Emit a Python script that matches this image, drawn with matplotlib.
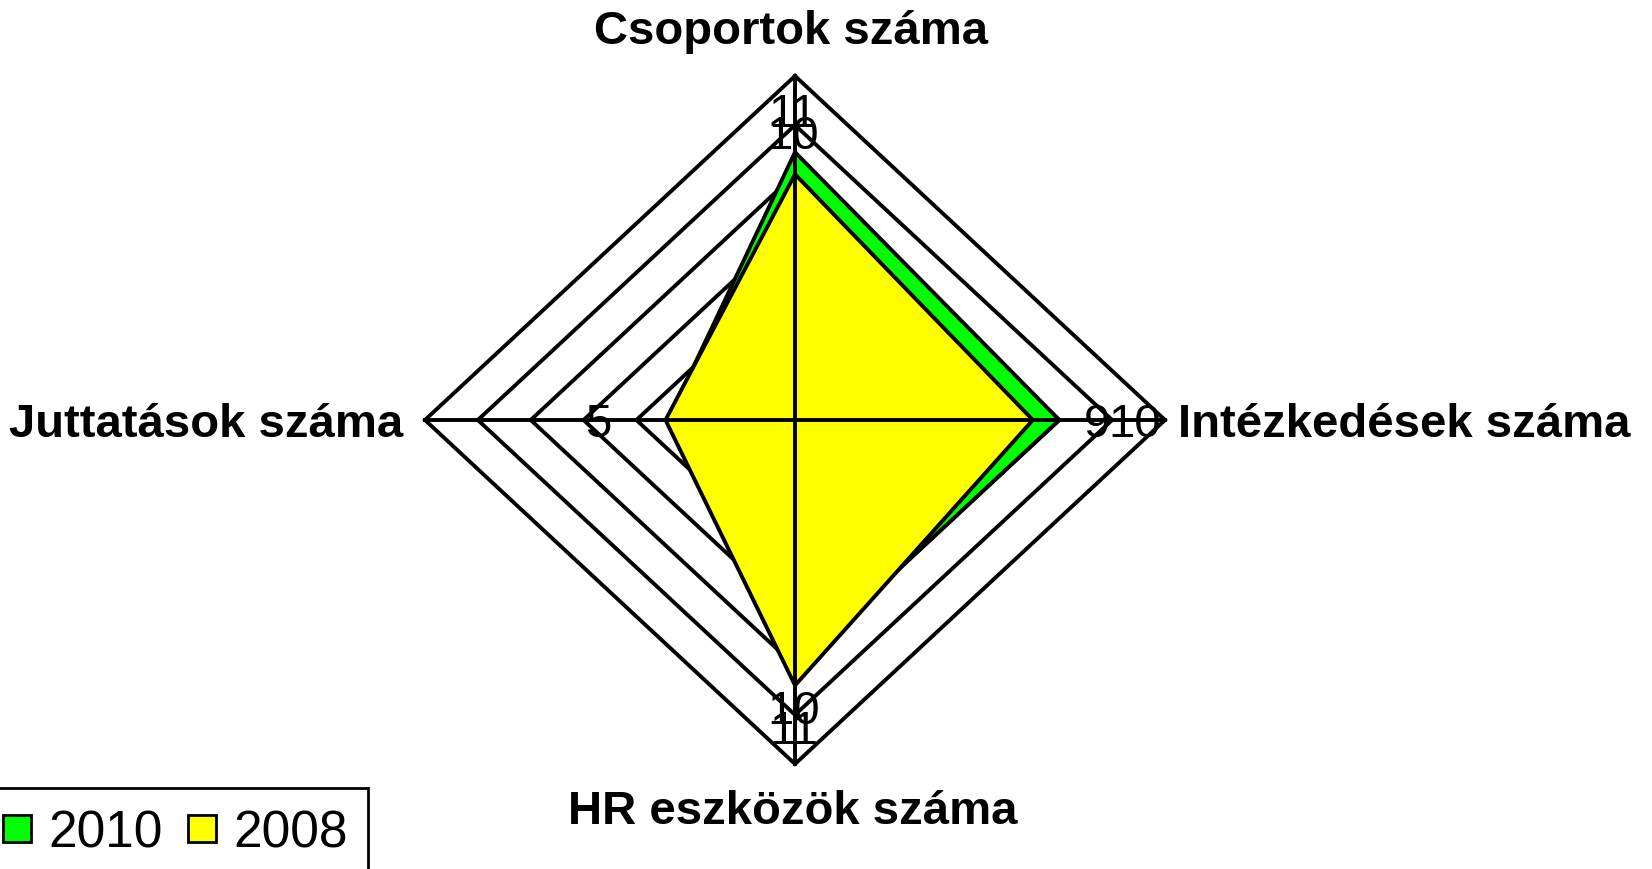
import numpy as np
import matplotlib.pyplot as plt
from matplotlib.patches import Rectangle

# -----------------------
# Data
# -----------------------
categories = ["Csoportok száma", "Intézkedések száma", "HR eszközök száma", "Juttatások száma"]
series_names = ["2010", "2008"]
values_2010 = [9.45, 9.0, 9.0, 6.4]
values_2008 = [9.0, 8.5, 9.4, 6.45]
ring_values = [5, 6, 7, 8, 9, 10, 11]
AXIS_MIN = 4
AXIS_MAX = 11

# tick labels as they appear on each spoke (text, value along spoke)
tick_top = [("11", 10.31), ("10", 9.86)]
tick_right = [("9", 9.71), ("10", 10.43)]
tick_bottom = [("10", 9.84), ("11", 10.25)]
tick_left = [("5", 7.72)]

GREEN = "#00ff00"
YELLOW = "#ffff00"
LW = 2.8

W, H = 1652, 869
CX, CY = 795, 420        # centre in pixels (from top)
RX, RY = 370, 344        # outer radius in pixels

angles = np.deg2rad([0, 90, 180, 270])  # clockwise from top


def frac(v):
    return (v - AXIS_MIN) / (AXIS_MAX - AXIS_MIN)


def to_xy(vals):
    r = frac(np.asarray(vals, dtype=float))
    return r * np.sin(angles), r * np.cos(angles)


fig = plt.figure(figsize=(W / 100, H / 100), dpi=100)
ax = fig.add_axes([(CX - RX) / W, (H - CY - RY) / H, 2 * RX / W, 2 * RY / H])
ax.set_xlim(-1, 1)
ax.set_ylim(-1, 1)
ax.axis("off")

# rings
for v in ring_values:
    x, y = to_xy([v] * 4)
    ax.plot(np.append(x, x[0]), np.append(y, y[0]), color="black", lw=LW,
            zorder=1, clip_on=False, solid_joinstyle="miter")

# series
for vals, col, z in [(values_2010, GREEN, 2), (values_2008, YELLOW, 3)]:
    x, y = to_xy(vals)
    ax.fill(x, y, facecolor=col, edgecolor="black", lw=LW, zorder=z,
            joinstyle="miter")

# spokes
ax.plot([0, 0], [-1, 1], color="black", lw=LW, zorder=4, clip_on=False)
ax.plot([-1, 1], [0, 0], color="black", lw=LW, zorder=4, clip_on=False)

# value labels
tick_kw = dict(fontsize=34, ha="center", va="center_baseline", zorder=5,
               family="Liberation Sans")
for txt, v in tick_top:
    ax.text(-0.005, frac(v), txt, **tick_kw)
for txt, v in tick_right:
    ax.text(frac(v), 0, txt, **tick_kw)
for txt, v in tick_bottom:
    ax.text(-0.003, -frac(v), txt, **tick_kw)
for txt, v in tick_left:
    ax.text(-frac(v), 0, txt, **tick_kw)

# category labels
cat_kw = dict(fontsize=34, fontweight="bold", family="Liberation Sans",
              va="center_baseline")
ax.text(-0.012, 1.142, categories[0], ha="center", **cat_kw)
ax.text(1.035, 0, categories[1], ha="left", **cat_kw)
ax.text(-0.005, -1.125, categories[2], ha="center", **cat_kw)
ax.text(-1.059, 0, categories[3], ha="right", **cat_kw)

# legend box
fig.patches.append(Rectangle((-5 / W, (H - 872) / H), 373 / W, 84 / H,
                             transform=fig.transFigure, facecolor="white",
                             edgecolor="black", lw=2, clip_on=False))
for x0, col, name in [(3, GREEN, series_names[0]), (188, YELLOW, series_names[1])]:
    fig.patches.append(Rectangle((x0 / W, (H - 842) / H), 28 / W, 27 / H,
                                 transform=fig.transFigure, facecolor=col,
                                 edgecolor="black", lw=2))
    fig.text((x0 + 45) / W, (H - 829) / H, name, fontsize=37, ha="left",
             va="center_baseline", family="Liberation Sans")

fig.savefig("out.png", dpi=100, facecolor="white")
